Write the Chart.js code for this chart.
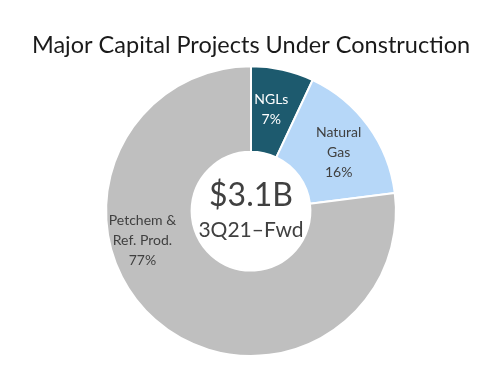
<!DOCTYPE html>
<html><head><meta charset="utf-8">
<script src="https://cdn.jsdelivr.net/npm/chart.js@4"></script>
<style>html,body{margin:0;padding:0;background:#fff}#wrap{width:478px;height:373px}</style>
</head><body><div id="wrap"><canvas id="c" width="478" height="373"></canvas></div>
<script>
const categories = [["NGLs"], ["Natural", "Gas"], ["Petchem &", "Ref. Prod."]];
const shares = [7, 16, 77];
const sliceColors = ["#1d5a6e", "#b6d7f8", "#bfbfbf"];
const labelColors = ["#ffffff", "#404040", "#404040"];
const titleText = "Major Capital Projects Under Construction";
const centerMain = "$3.1B";
const centerSub = "3Q21\u2013Fwd";
const FONT = "Lato, 'Open Sans', sans-serif";
// label nudges relative to each slice's mid point (styling only)
const labelNudge = [[-2, -2], [5, 1], [-41, -47]];

const labelPlugin = {
  id: 'sliceLabels',
  afterDatasetsDraw(chart) {
    const ctx = chart.ctx;
    const meta = chart.getDatasetMeta(0);
    ctx.save();
    ctx.textAlign = 'center';
    ctx.textBaseline = 'middle';
    meta.data.forEach((arc, i) => {
      const p = arc.tooltipPosition();
      const x = p.x + labelNudge[i][0], y = p.y + labelNudge[i][1];
      const lines = categories[i].concat([shares[i] + '%']);
      ctx.fillStyle = labelColors[i];
      ctx.font = '14px ' + FONT;
      const lh = 20;
      const y0 = y - (lines.length - 1) * lh / 2;
      lines.forEach((t, k) => ctx.fillText(t, x, y0 + k * lh));
    });
    const cx = (chart.chartArea.left + chart.chartArea.right) / 2;
    const cy = (chart.chartArea.top + chart.chartArea.bottom) / 2;
    ctx.fillStyle = '#404040';
    ctx.font = '32px ' + FONT;
    ctx.fillText(centerMain, cx, cy - 15);
    ctx.font = '21px ' + FONT;
    ctx.fillText(centerSub, cx, cy + 19);
    ctx.restore();
  }
};

new Chart(document.getElementById('c'), {
  type: 'doughnut',
  data: {
    labels: categories.map(c => c.join(' ')),
    datasets: [{
      data: shares,
      backgroundColor: sliceColors,
      borderColor: '#ffffff',
      borderWidth: 2
    }]
  },
  options: {
    responsive: false,
    animation: false,
    cutout: '41%',
    layout: { padding: { left: 24, top: 0, bottom: 16, right: 0 } },
    plugins: {
      legend: { display: false },
      tooltip: { enabled: false },
      title: {
        display: true,
        text: titleText,
        color: '#1a1a1a',
        font: { family: FONT, size: 23.5, weight: 'normal' },
        padding: { top: 31, bottom: 6 }
      }
    }
  },
  plugins: [labelPlugin]
});
</script></body></html>
